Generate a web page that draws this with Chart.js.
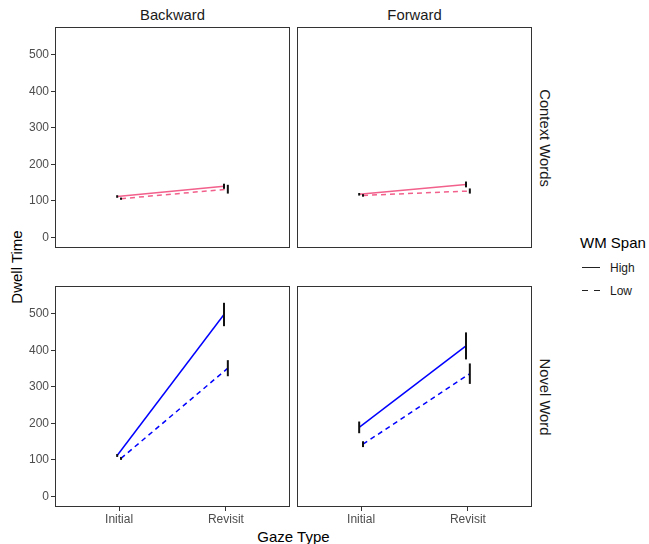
<!DOCTYPE html>
<html>
<head>
<meta charset="utf-8">
<script src="https://cdn.jsdelivr.net/npm/chart.js@4/dist/chart.umd.min.js"></script>
<style>
    body { margin: 0; background: #fff; font-family: 'Liberation Sans', Arial, sans-serif; }
    #page { position: relative; width: 649px; height: 544px; overflow: hidden; background: #fff; }
    canvas { position: absolute; }
    .lbl { position: absolute; white-space: nowrap; transform: translate(-50%, -50%); color: #1a1a1a; }
    .strip { font-size: 14.8px; }
    .rot90 { transform: translate(-50%, -50%) rotate(90deg); }
    .rotm90 { transform: translate(-50%, -50%) rotate(-90deg); }
    .title { font-size: 15px; color: #000; }
    .key { position: absolute; height: 0; border-top: 1.5px solid #222; }
    .legtext { position: absolute; font-size: 12px; color: #1a1a1a; transform: translateY(-50%); white-space: nowrap; }
    .legtitle { position: absolute; font-size: 15px; color: #000; transform: translateY(-50%); white-space: nowrap; }
</style>
</head>
<body>
<div id="page">
    <div class="lbl strip" style="left:172.5px; top:14.5px">Backward</div>
    <div class="lbl strip" style="left:414.5px; top:14.5px">Forward</div>
    <div class="lbl strip rot90" style="left:545px; top:137.5px">Context Words</div>
    <div class="lbl strip rot90" style="left:545px; top:396.5px">Novel Word</div>
    <div class="lbl title rotm90" style="left:16px; top:267px">Dwell Time</div>
    <div class="lbl title" style="left:293.5px; top:535.5px">Gaze Type</div>

    <div class="legtitle" style="left:580px; top:241.5px">WM Span</div>
    <div class="key" style="left:582px; top:267px; width:18px"></div>
    <div class="legtext" style="left:610px; top:267.5px">High</div>
    <div class="key" style="left:582px; top:290px; width:6px"></div>
    <div class="key" style="left:594px; top:290px; width:6px"></div>
    <div class="legtext" style="left:610px; top:290.5px">Low</div>
</div>
<script>
// categories
const gazeTypes = ['Initial', 'Revisit']
const yTicks = [0, 100, 200, 300, 400, 500]

// mean dwell time and error (Initial, Revisit)
const backwardContextHigh = [112, 140]
const backwardContextHighSE = [3.5, 7]
const backwardContextLow = [106, 132]
const backwardContextLowSE = [3, 12]

const forwardContextHigh = [118, 145]
const forwardContextHighSE = [3.5, 8]
const forwardContextLow = [115, 127]
const forwardContextLowSE = [3.5, 7]

const backwardNovelHigh = [112, 498]
const backwardNovelHighSE = [4, 32]
const backwardNovelLow = [104, 351]
const backwardNovelLowSE = [4, 22]

const forwardNovelHigh = [189, 412]
const forwardNovelHighSE = [16, 37]
const forwardNovelLow = [143, 336]
const forwardNovelLowSE = [8, 28]

const PINK = '#F2608C'
const BLUE = '#0000FF'
const DODGE = 0.018
const P = 12

Chart.defaults.font.family = "'Liberation Sans', Arial, sans-serif"

const panelBox = {
    id: 'panelBox',
    afterDraw(chart) {
        const { ctx, chartArea: a } = chart
        ctx.save()
        ctx.strokeStyle = '#333333'
        ctx.lineWidth = 1
        ctx.strokeRect(a.left + 0.5, a.top + 0.5, a.right - a.left - 1, a.bottom - a.top - 1)
        ctx.restore()
    }
}

const panels = [
    { high: backwardContextHigh, highSE: backwardContextHighSE, low: backwardContextLow, lowSE: backwardContextLowSE,
      color: PINK, rect: { l: 55, t: 27, r: 290, b: 248 }, showX: false, showY: true },
    { high: forwardContextHigh, highSE: forwardContextHighSE, low: forwardContextLow, lowSE: forwardContextLowSE,
      color: PINK, rect: { l: 297, t: 27, r: 532, b: 248 }, showX: false, showY: false },
    { high: backwardNovelHigh, highSE: backwardNovelHighSE, low: backwardNovelLow, lowSE: backwardNovelLowSE,
      color: BLUE, rect: { l: 55, t: 286, r: 290, b: 507 }, showX: true, showY: true },
    { high: forwardNovelHigh, highSE: forwardNovelHighSE, low: forwardNovelLow, lowSE: forwardNovelLowSE,
      color: BLUE, rect: { l: 297, t: 286, r: 532, b: 507 }, showX: true, showY: false }
]

const tickGrid = { drawOnChartArea: false, drawTicks: true, tickLength: 4, color: '#333333', lineWidth: 1 }
const tickFont = { size: 12 }

function makePanel(p) {
    const axisW = 55
    const axisH = 20
    const left = p.showY ? p.rect.l - axisW : p.rect.l - P
    const top = p.rect.t - P
    const width = p.rect.r + P - left
    const height = p.rect.b + (p.showX ? axisH : P) - top

    const canvas = document.createElement('canvas')
    canvas.width = width
    canvas.height = height
    canvas.style.left = left + 'px'
    canvas.style.top = top + 'px'
    document.getElementById('page').appendChild(canvas)

    const datasets = []
    const series = [
        { name: 'High', mean: p.high, se: p.highSE, shift: -DODGE, dash: [] },
        { name: 'Low', mean: p.low, se: p.lowSE, shift: DODGE, dash: [5, 4] }
    ]
    series.forEach(s => {
        datasets.push({
            label: s.name,
            data: gazeTypes.map((g, i) => ({ x: i + 1 + s.shift, y: s.mean[i] })),
            borderColor: p.color,
            borderWidth: 1.5,
            borderDash: s.dash,
            pointRadius: 0,
            order: 2
        })
        gazeTypes.forEach((g, i) => {
            datasets.push({
                label: s.name + ' ' + g + ' error',
                data: [
                    { x: i + 1 + s.shift, y: s.mean[i] - s.se[i] },
                    { x: i + 1 + s.shift, y: s.mean[i] + s.se[i] }
                ],
                borderColor: '#111111',
                borderWidth: 2,
                pointRadius: 0,
                order: 1
            })
        })
    })

    return new Chart(canvas.getContext('2d'), {
        type: 'line',
        data: { datasets: datasets },
        options: {
            responsive: false,
            animation: false,
            events: [],
            layout: { padding: { left: p.showY ? 0 : P, right: P, top: P, bottom: p.showX ? 0 : P } },
            plugins: { legend: { display: false }, tooltip: { enabled: false } },
            scales: {
                x: {
                    type: 'linear',
                    min: 0.4,
                    max: 2.6,
                    display: p.showX,
                    afterBuildTicks: s => { s.ticks = gazeTypes.map((g, i) => ({ value: i + 1 })) },
                    afterFit: s => { if (p.showX) s.height = axisH },
                    grid: tickGrid,
                    border: { display: false },
                    ticks: {
                        callback: (v, i) => gazeTypes[i],
                        color: '#4D4D4D',
                        font: tickFont,
                        padding: 1,
                        maxRotation: 0,
                        autoSkip: false
                    }
                },
                y: {
                    type: 'linear',
                    min: -29,
                    max: 576,
                    display: p.showY,
                    afterBuildTicks: s => { s.ticks = yTicks.map(v => ({ value: v })) },
                    afterFit: s => { if (p.showY) s.width = axisW },
                    grid: tickGrid,
                    border: { display: false },
                    ticks: {
                        color: '#4D4D4D',
                        font: tickFont,
                        padding: 2,
                        autoSkip: false
                    }
                }
            }
        },
        plugins: [panelBox]
    })
}

window.addEventListener('load', () => {
    panels.forEach(makePanel)
})
</script>
</body>
</html>
